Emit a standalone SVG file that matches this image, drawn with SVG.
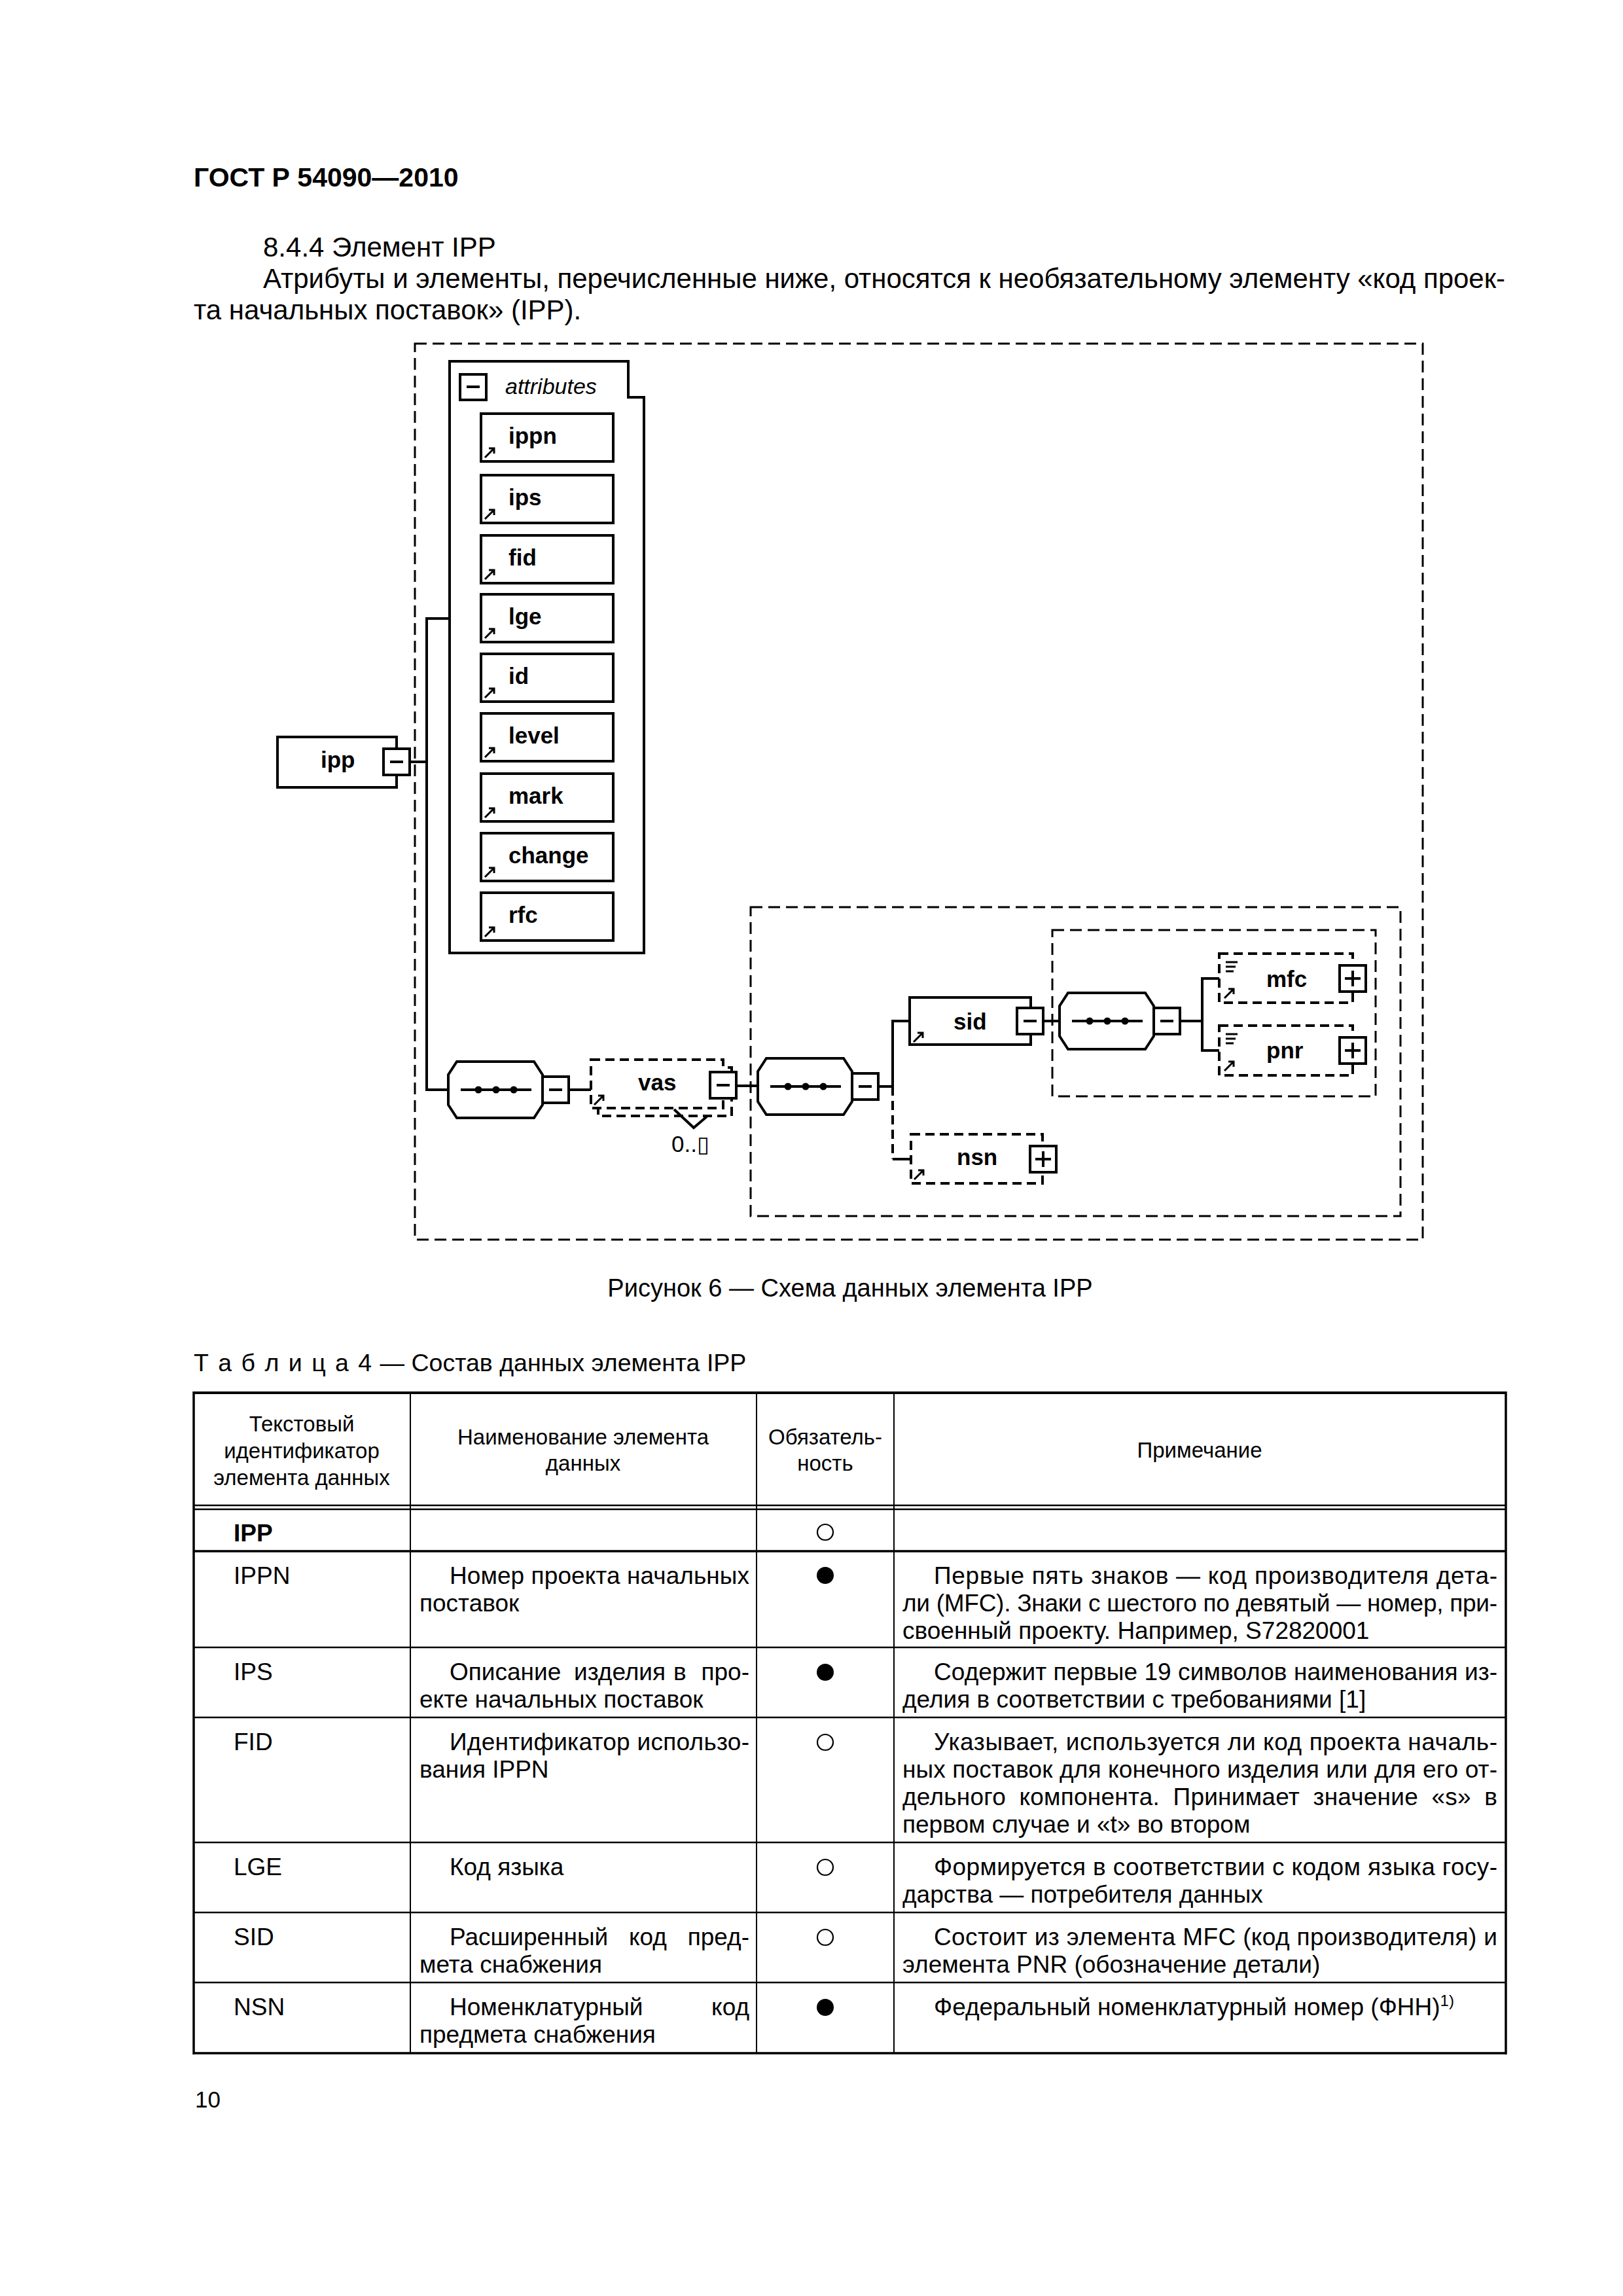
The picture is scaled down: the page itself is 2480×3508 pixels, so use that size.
<svg xmlns="http://www.w3.org/2000/svg" width="2480" height="3508" viewBox="0 0 2480 3508">
<style>
text{font-family:"Liberation Sans",Arial,sans-serif;fill:#000}
.h{font-size:41px;font-weight:bold}
.p{font-size:42px}
.cap{font-size:38px}
.th{font-size:33px;text-anchor:middle}
.td{font-size:37px}
.e{text-anchor:end}
.n{font-size:35px;font-weight:bold}
.it{font-size:34px;font-style:italic}
.frame{fill:none;stroke:#000;stroke-width:3;stroke-dasharray:18 9}
.box{fill:#fff;stroke:#000;stroke-width:4}
.dbox{fill:#fff;stroke:#000;stroke-width:4;stroke-dasharray:14 8}
.ln{fill:none;stroke:#000;stroke-width:4}
.dln{fill:none;stroke:#000;stroke-width:4;stroke-dasharray:14 8}
.ic{fill:none;stroke:#000;stroke-width:3}
.t1{stroke:#000;stroke-width:2}
.t2{stroke:#000;stroke-width:2.5}
.t3{stroke:#000;stroke-width:3.5}
.oc{fill:#fff;stroke:#000;stroke-width:2.2}
</style>
<defs>
<path id="ar" class="ic" d="M0,0 L14,-14 M6,-14 H14 V-6"/>
<path id="eq" class="ic" d="M0,0 H18 M0,7 H15 M0,14 H12"/>
<g id="mi"><rect class="box" x="0" y="-20" width="40" height="40"/><path class="ln" d="M10,0 H30"/></g>
<g id="pl"><rect class="box" x="0" y="-20" width="40" height="40"/><path class="ln" d="M8,0 H32 M20,-12 V12"/></g>
<g id="sq"><path class="ln" d="M0,0 H108"/><circle cx="27" cy="0" r="5.5"/><circle cx="54" cy="0" r="5.5"/><circle cx="81" cy="0" r="5.5"/></g>
</defs>

<text class="h" x="296" y="285">ГОСТ Р 54090—2010</text>
<text class="p" x="402" y="392">8.4.4  Элемент IPP</text>
<text class="p" x="402" y="440" textLength="1898" lengthAdjust="spacing">Атрибуты и элементы, перечисленные ниже, относятся к необязательному элементу «код проек-</text>
<text class="p" x="296" y="488">та начальных поставок» (IPP).</text>

<g id="frames">
<rect class="frame" x="634" y="525" width="1540" height="1369"/>
<rect class="frame" x="1147" y="1386" width="993" height="472"/>
<rect class="frame" x="1608" y="1421" width="494" height="254"/>
</g>

<g id="connectors">
<path class="ln" d="M627,1164 H652"/>
<path class="ln" d="M687,945 H652 V1665 H685"/>
<path class="ln" d="M869,1665 H903"/>
<path class="ln" d="M1125,1659 H1158"/>
<path class="ln" d="M1340,1660 H1364"/>
<path class="ln" d="M1390,1560 H1364 V1660"/>
<path class="dln" d="M1364,1660 V1771"/>
<path class="ln" d="M1364,1771 H1392"/>
<path class="ln" d="M1594,1560 H1619"/>
<path class="ln" d="M1803,1560 H1837"/>
<path class="ln" d="M1863,1495 H1837 V1605 H1863"/>
</g>

<g id="node-ipp">
<rect class="box" x="424" y="1126" width="182" height="77"/>
<text class="n" x="490" y="1173">ipp</text>
<use href="#mi" x="586" y="1164"/>
</g>

<g id="node-attributes">
<path class="ln" d="M687,1456 V552 H960 V607 H984 V1456 Z"/>
<rect class="box" x="703" y="572" width="40" height="39"/>
<path class="ln" d="M713,591 H733"/>
<text class="it" x="772" y="602">attributes</text>
</g>

<g id="node-ippn"><rect class="box" x="735" y="632" width="202" height="73"/><text class="n" x="777" y="678">ippn</text><use href="#ar" x="741" y="699"/></g>
<g id="node-ips"><rect class="box" x="735" y="726" width="202" height="73"/><text class="n" x="777" y="772">ips</text><use href="#ar" x="741" y="793"/></g>
<g id="node-fid"><rect class="box" x="735" y="818" width="202" height="73"/><text class="n" x="777" y="864">fid</text><use href="#ar" x="741" y="885"/></g>
<g id="node-lge"><rect class="box" x="735" y="908" width="202" height="73"/><text class="n" x="777" y="954">lge</text><use href="#ar" x="741" y="975"/></g>
<g id="node-id"><rect class="box" x="735" y="999" width="202" height="73"/><text class="n" x="777" y="1045">id</text><use href="#ar" x="741" y="1066"/></g>
<g id="node-level"><rect class="box" x="735" y="1090" width="202" height="73"/><text class="n" x="777" y="1136">level</text><use href="#ar" x="741" y="1157"/></g>
<g id="node-mark"><rect class="box" x="735" y="1182" width="202" height="73"/><text class="n" x="777" y="1228">mark</text><use href="#ar" x="741" y="1249"/></g>
<g id="node-change"><rect class="box" x="735" y="1273" width="202" height="73"/><text class="n" x="777" y="1319">change</text><use href="#ar" x="741" y="1340"/></g>
<g id="node-rfc"><rect class="box" x="735" y="1364" width="202" height="73"/><text class="n" x="777" y="1410">rfc</text><use href="#ar" x="741" y="1431"/></g>

<g id="node-seq1">
<path class="box" d="M698,1622 H816 L829,1642 V1688 L816,1708 H698 L685,1688 V1642 Z"/>
<use href="#sq" x="704" y="1665"/>
<use href="#mi" x="829" y="1665"/>
</g>

<g id="node-vas">
<rect class="dbox" x="914" y="1631" width="204" height="74"/>
<rect class="dbox" x="903" y="1619" width="202" height="74"/>
<text class="n" x="975" y="1666">vas</text>
<use href="#ar" x="908" y="1688"/>
<use href="#mi" x="1085" y="1658"/>
<path class="ln" d="M1030,1695 L1060,1723 L1080,1706"/>
<text x="1026" y="1760" style="font-size:35px">0..<tspan style="font-family:'DejaVu Sans',sans-serif;font-size:34px">▯</tspan></text>
</g>

<g id="node-seq2">
<path class="box" d="M1171,1617 H1289 L1302,1637 V1683 L1289,1703 H1171 L1158,1683 V1637 Z"/>
<use href="#sq" x="1177" y="1660"/>
<use href="#mi" x="1302" y="1660"/>
</g>

<g id="node-sid">
<rect class="box" x="1390" y="1524" width="185" height="72"/>
<text class="n" x="1457" y="1573">sid</text>
<use href="#ar" x="1396" y="1592"/>
<use href="#mi" x="1554" y="1560"/>
</g>

<g id="node-seq3">
<path class="box" d="M1632,1517 H1750 L1763,1537 V1583 L1750,1603 H1632 L1619,1583 V1537 Z"/>
<use href="#sq" x="1638" y="1560"/>
<use href="#mi" x="1763" y="1560"/>
</g>

<g id="node-mfc">
<rect class="dbox" x="1863" y="1457" width="204" height="75"/>
<use href="#eq" x="1873" y="1470"/>
<use href="#ar" x="1871" y="1525"/>
<text class="n" x="1935" y="1508">mfc</text>
<use href="#pl" x="2047" y="1495"/>
</g>

<g id="node-pnr">
<rect class="dbox" x="1863" y="1567" width="204" height="76"/>
<use href="#eq" x="1873" y="1580"/>
<use href="#ar" x="1871" y="1636"/>
<text class="n" x="1935" y="1617">pnr</text>
<use href="#pl" x="2047" y="1605"/>
</g>

<g id="node-nsn">
<rect class="dbox" x="1392" y="1733" width="201" height="75"/>
<use href="#ar" x="1397" y="1802"/>
<text class="n" x="1462" y="1780">nsn</text>
<use href="#pl" x="1574" y="1771"/>
</g>

<text class="cap" x="1299" y="1981" text-anchor="middle">Рисунок 6 — Схема данных элемента IPP</text>

<text x="296" y="2095" style="font-size:37.5px"><tspan style="letter-spacing:2px">Т а б л и ц а  4</tspan> — Состав данных элемента IPP</text>

<g id="table">
<line class="t3" x1="296" y1="2128" x2="2301" y2="2128" style="stroke-width:4"/>
<line class="t2" x1="296" y1="2300" x2="2301" y2="2300"/>
<line class="t2" x1="296" y1="2306" x2="2301" y2="2306"/>
<line class="t3" x1="296" y1="2370" x2="2301" y2="2370"/>
<line class="t2" x1="296" y1="2517" x2="2301" y2="2517"/>
<line class="t2" x1="296" y1="2624" x2="2301" y2="2624"/>
<line class="t2" x1="296" y1="2815" x2="2301" y2="2815"/>
<line class="t2" x1="296" y1="2922" x2="2301" y2="2922"/>
<line class="t2" x1="296" y1="3029" x2="2301" y2="3029"/>
<line class="t3" x1="296" y1="3137" x2="2301" y2="3137"/>
<line class="t3" x1="296" y1="2126" x2="296" y2="3139"/>
<line class="t3" x1="2301" y1="2126" x2="2301" y2="3139"/>
<line class="t1" x1="627" y1="2128" x2="627" y2="3137"/>
<line class="t1" x1="1156" y1="2128" x2="1156" y2="3137"/>
<line class="t1" x1="1366" y1="2128" x2="1366" y2="3137"/>

<text class="th" x="461" y="2187">Текстовый</text>
<text class="th" x="461" y="2228">идентификатор</text>
<text class="th" x="461" y="2269">элемента данных</text>
<text class="th" x="891" y="2207">Наименование элемента</text>
<text class="th" x="891" y="2247">данных</text>
<text class="th" x="1261" y="2207">Обязатель-</text>
<text class="th" x="1261" y="2247">ность</text>
<text class="th" x="1833" y="2227">Примечание</text>

<text class="td" x="357" y="2355" style="font-weight:bold">IPP</text>
<circle class="oc" cx="1261" cy="2341" r="12"/>

<text class="td" x="357" y="2420">IPPN</text>
<text class="td" x="687" y="2420" textLength="458" lengthAdjust="spacing">Номер проекта начальных</text>
<text class="td" x="641" y="2462">поставок</text>
<circle cx="1261" cy="2407" r="13"/>
<text class="td" x="1427" y="2420" textLength="861" lengthAdjust="spacing">Первые пять знаков — код производителя дета-</text>
<text class="td" x="1379" y="2462" textLength="909" lengthAdjust="spacing">ли (MFC). Знаки с шестого по девятый — номер, при-</text>
<text class="td" x="1379" y="2504">своенный проекту. Например, S72820001</text>

<text class="td" x="357" y="2567">IPS</text>
<text class="td" y="2567"><tspan x="687">Описание</tspan><tspan x="877">изделия</tspan><tspan x="1029">в</tspan></text>
<text class="td e" x="1145" y="2567">про-</text>
<text class="td" x="641" y="2609">екте начальных поставок</text>
<circle cx="1261" cy="2555" r="13"/>
<text class="td" x="1427" y="2567" textLength="861" lengthAdjust="spacing">Содержит первые 19 символов наименования из-</text>
<text class="td" x="1379" y="2609">делия в соответствии с требованиями [1]</text>

<text class="td" x="357" y="2674">FID</text>
<text class="td" x="687" y="2674" textLength="458" lengthAdjust="spacing">Идентификатор использо-</text>
<text class="td" x="641" y="2716">вания IPPN</text>
<circle class="oc" cx="1261" cy="2662" r="12"/>
<text class="td" x="1427" y="2674" textLength="861" lengthAdjust="spacing">Указывает, используется ли код проекта началь-</text>
<text class="td" x="1379" y="2716" textLength="909" lengthAdjust="spacing">ных поставок для конечного изделия или для его от-</text>
<text class="td" x="1379" y="2758" textLength="909" lengthAdjust="spacing" word-spacing="10">дельного компонента. Принимает значение «s» в</text>
<text class="td" x="1379" y="2800">первом случае и «t» во втором</text>

<text class="td" x="357" y="2865">LGE</text>
<text class="td" x="687" y="2865">Код языка</text>
<circle class="oc" cx="1261" cy="2853" r="12"/>
<text class="td" x="1427" y="2865" textLength="861" lengthAdjust="spacing">Формируется в соответствии с кодом языка госу-</text>
<text class="td" x="1379" y="2907">дарства — потребителя данных</text>

<text class="td" x="357" y="2972">SID</text>
<text class="td" y="2972"><tspan x="687">Расширенный</tspan><tspan x="961">код</tspan></text>
<text class="td e" x="1145" y="2972">пред-</text>
<text class="td" x="641" y="3014">мета снабжения</text>
<circle class="oc" cx="1261" cy="2960" r="12"/>
<text class="td" x="1427" y="2972" textLength="861" lengthAdjust="spacing">Состоит из элемента MFC (код производителя) и</text>
<text class="td" x="1379" y="3014">элемента PNR (обозначение детали)</text>

<text class="td" x="357" y="3079">NSN</text>
<text class="td" x="687" y="3079">Номенклатурный</text>
<text class="td e" x="1145" y="3079">код</text>
<text class="td" x="641" y="3121">предмета снабжения</text>
<circle cx="1261" cy="3067" r="13"/>
<text class="td" x="1427" y="3079">Федеральный номенклатурный номер (ФНН)<tspan dy="-14" style="font-size:24px">1)</tspan></text>
</g>

<text x="298" y="3220" style="font-size:35px">10</text>
</svg>
